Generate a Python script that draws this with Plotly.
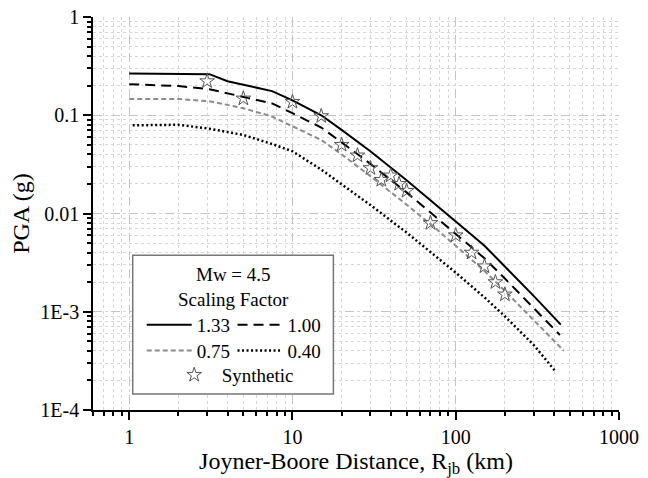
import math
import plotly.graph_objects as go

# ==========================================
# Dados (distancia Rjb em km, PGA em g)
# ==========================================
dist_133 = [1, 2, 3.1, 4, 5, 7.5, 10, 15, 20, 30, 50, 75, 100, 150, 200, 300, 440]
pga_133 = [0.266, 0.262, 0.262, 0.222, 0.205, 0.176, 0.142, 0.100, 0.071, 0.043,
           0.0218, 0.0125, 0.0083, 0.0047, 0.0029, 0.00145, 0.00074]

dist_100 = [1, 2, 3.1, 4, 5, 7.5, 10, 15, 20, 30, 50, 75, 100, 150, 200, 300, 435]
pga_100 = [0.207, 0.198, 0.184, 0.167, 0.155, 0.132, 0.105, 0.075, 0.053, 0.032,
           0.0164, 0.0094, 0.0062, 0.0035, 0.00218, 0.00109, 0.00058]

dist_075 = [1, 2, 3.1, 4, 5, 7.5, 10, 15, 20, 30, 50, 75, 100, 150, 200, 300, 460]
pga_075 = [0.146, 0.146, 0.139, 0.128, 0.118, 0.097, 0.077, 0.056, 0.040, 0.024,
           0.0123, 0.0071, 0.0047, 0.0026, 0.00163, 0.00082, 0.00040]

dist_040 = [1.05, 2, 3.1, 4, 5, 7.5, 10, 15, 20, 30, 50, 75, 100, 150, 200, 300, 410]
pga_040 = [0.079, 0.080, 0.073, 0.068, 0.063, 0.051, 0.043, 0.028, 0.020, 0.0122,
           0.0064, 0.0037, 0.0025, 0.0014, 0.0009, 0.00046, 0.000245]

dist_sint = [3, 5, 10, 15, 20, 25, 30, 35, 40, 45, 50, 70, 100, 125, 150, 175, 200]
pga_sint = [0.222, 0.148, 0.137, 0.098, 0.050, 0.039, 0.029, 0.022, 0.0244, 0.020,
            0.017, 0.008, 0.006, 0.004, 0.0029, 0.002, 0.0015]

x_ticks = [1, 10, 100, 1000]
x_labels = ['1', '10', '100', '1000']
y_ticks = [1, 0.1, 0.01, 0.001, 0.0001]
y_labels = ['1', '0.1', '0.01', '1E-3', '1E-4']

FONTE = 'Liberation Serif, Times New Roman, serif'
X_RANGE = [math.log10(0.6), 3]
Y_RANGE = [-4, 0]

fig = go.Figure()

# curvas dos fatores de escala
fig.add_trace(go.Scatter(x=dist_133, y=pga_133, mode='lines', name='1.33', legend='legend',
                         line=dict(color='black', width=2)))
fig.add_trace(go.Scatter(x=dist_100, y=pga_100, mode='lines', name='1.00', legend='legend2',
                         line=dict(color='black', width=2, dash='10px,6px')))
fig.add_trace(go.Scatter(x=dist_075, y=pga_075, mode='lines', name='0.75', legend='legend3',
                         line=dict(color='#8c8c8c', width=2, dash='5px,3px')))
fig.add_trace(go.Scatter(x=dist_040, y=pga_040, mode='lines', name='0.40', legend='legend4',
                         line=dict(color='black', width=2.5, dash='2px,2.5px')))
fig.add_trace(go.Scatter(x=dist_sint, y=pga_sint, mode='markers', name='Synthetic', legend='legend5',
                         marker=dict(symbol='star-open', size=11, color='#555555',
                                     line=dict(width=1, color='#555555'))))

# caixa da legenda
fig.add_shape(type='rect', xref='paper', yref='paper', x0=0.0755, x1=0.457, y0=0.0407, y1=0.394,
              line=dict(color='#777777', width=1.5), fillcolor='white', layer='above')

for texto, ypos in [('Mw = 4.5', 0.346), ('Scaling Factor', 0.280)]:
    fig.add_annotation(text=texto, xref='paper', yref='paper', x=0.2664, y=ypos,
                       xanchor='center', yanchor='middle', showarrow=False,
                       font=dict(family=FONTE, size=19, color='black'))

leg_base = dict(bgcolor='rgba(0,0,0,0)', borderwidth=0, xanchor='left', yanchor='middle',
                itemwidth=45, font=dict(family=FONTE, size=19, color='black'))
grade_maior = dict(showgrid=True, gridcolor='#c4c4c4', griddash='dash', gridwidth=1)
minor_x = dict(dtick='D1', ticks='outside', ticklen=4, tickcolor='black',
               showgrid=True, gridcolor='#d6d6d6', griddash='dot', gridwidth=1)

# a pagina tem margem de 8px no body, por isso a figura e um pouco menor
fig.update_layout(
    width=640, height=470,
    margin=dict(l=85, r=28.5, t=9, b=68),
    plot_bgcolor='white', paper_bgcolor='white',
    font=dict(family=FONTE, size=20, color='black'),
    showlegend=True,
    legend=dict(leg_base, x=0.0926, y=0.2163),
    legend2=dict(leg_base, x=0.2653, y=0.2163),
    legend3=dict(leg_base, x=0.0926, y=0.1509),
    legend4=dict(leg_base, x=0.2653, y=0.1509),
    legend5=dict(leg_base, x=0.1401, y=0.0891),
    xaxis=dict(type='log', range=X_RANGE, tickmode='array', tickvals=x_ticks, ticktext=x_labels,
               ticks='outside', ticklen=8, tickwidth=1.5, tickcolor='black', automargin=False,
               ticklabeloverflow='allow',
               showline=True, linecolor='black', linewidth=1.5, zeroline=False,
               title=dict(text='Joyner-Boore Distance, R<sub>jb</sub> (km)'),
               minor=minor_x, **grade_maior),
    yaxis=dict(type='log', range=Y_RANGE, tickmode='array', tickvals=y_ticks, ticktext=y_labels,
               ticks='outside', ticklen=8, tickwidth=1.5, tickcolor='black', automargin=False,
               ticklabeloverflow='allow',
               showline=True, linecolor='black', linewidth=1.5, zeroline=False,
               title=dict(text='PGA (g)'),
               minor=minor_x, **grade_maior),
    # eixos espelhados (topo e direita) com ticks para dentro
    xaxis2=dict(type='log', range=X_RANGE, overlaying='x', side='top', anchor='y', automargin=False,
                tickmode='array', tickvals=x_ticks, showticklabels=False,
                ticks='inside', ticklen=8, tickwidth=1.5, tickcolor='black',
                showline=True, linecolor='black', linewidth=1.5, showgrid=False, zeroline=False,
                minor=dict(dtick='D1', ticks='inside', ticklen=4, tickcolor='black', showgrid=False)),
    yaxis2=dict(type='log', range=Y_RANGE, overlaying='y', side='right', anchor='x', automargin=False,
                tickmode='array', tickvals=y_ticks, showticklabels=False,
                ticks='inside', ticklen=8, tickwidth=1.5, tickcolor='black',
                showline=True, linecolor='black', linewidth=1.5, showgrid=False, zeroline=False,
                minor=dict(dtick='D1', ticks='inside', ticklen=4, tickcolor='black', showgrid=False)),
)

fig.write_html('out.html')
